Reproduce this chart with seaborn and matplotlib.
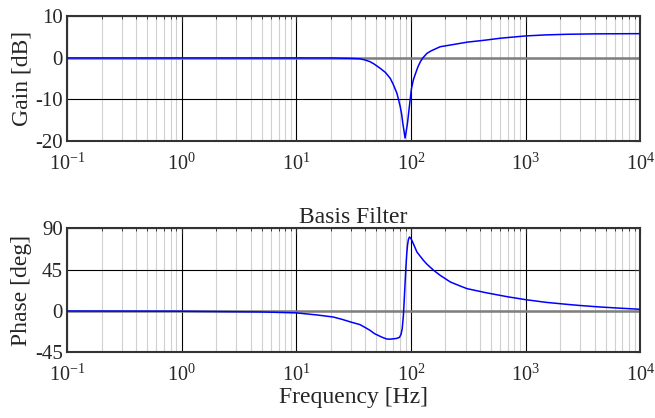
import matplotlib
matplotlib.use("Agg")
import matplotlib.pyplot as plt
import seaborn as sns
import pandas as pd
import numpy as np
from matplotlib.ticker import LogLocator, NullFormatter

# ---- data ----
gain_freq = [0.1, 1, 10, 20, 30, 36, 40, 44, 48, 54, 60, 66, 70, 75.5, 78, 80.7, 83, 85, 87, 89,
             91, 93.4, 96, 98.5, 101, 105, 109, 115, 121, 127, 138, 150, 180, 220, 309, 450,
             603, 1000, 1500, 2290, 4000, 10000]
gain_db = [0, 0, 0, 0, -0.1, -0.2, -0.5, -0.9, -1.5, -2.5, -3.5, -4.9, -6.3, -8.5, -10, -11.7, -13.5,
           -15.7, -17.5, -19.3, -17.7, -15.7, -12.8, -10.1, -7.5, -5.3, -4, -2.2, -0.9, 0, 1.1, 1.7,
           2.7, 3.1, 3.8, 4.3, 4.75, 5.3, 5.55, 5.7, 5.8, 5.85]

phase_freq = [0.1, 1, 5, 10, 15, 21, 25, 30, 36, 40, 44, 48, 54, 58, 62, 66, 71, 75, 79.5, 82, 84,
              86, 87.3, 88.8, 90.3, 92, 93.4, 95, 97, 99.5, 102, 107, 113, 120, 129, 138, 158,
              180, 221, 260, 308, 450, 603, 700, 1000, 1500, 2290, 3000, 4470, 6500, 10000]
phase_deg = [0, -0.2, -1, -2, -4.2, -6.5, -9, -12, -14.8, -18, -21, -24.5, -27.6, -29.3, -30.5,
             -30.6, -30.2, -29.8, -28.7, -25.5, -19.3, -5, 9.8, 28, 46, 62, 71.4, 77.5, 80.5, 79.5,
             76.9, 71, 64.2, 60, 55, 51, 44.3, 38.9, 31.6, 28, 24.4, 20, 17, 15.5, 12.4, 9.5, 7.3,
             6, 4.4, 3.2, 1.9]

gain_ticks = [-20, -10, 0, 10]
phase_ticks = [-45, 0, 45, 90]
x_ticks = [0.1, 1, 10, 100, 1000, 10000]
x_labels = [r"$10^{-1}$", r"$10^{0}$", r"$10^{1}$", r"$10^{2}$", r"$10^{3}$", r"$10^{4}$"]

sns.set_style("white")
plt.rcParams["font.family"] = ["Liberation Serif", "DejaVu Serif"]
plt.rcParams["mathtext.fontset"] = "custom"
plt.rcParams["mathtext.rm"] = "Liberation Serif"
plt.rcParams["mathtext.it"] = "Liberation Serif:italic"
plt.rcParams["mathtext.bf"] = "Liberation Serif:bold"

fig = plt.figure(figsize=(6.55, 4.18), dpi=100)
ax1 = fig.add_axes([0.1023, 0.6627, 0.875, 0.298])
ax2 = fig.add_axes([0.1023, 0.157, 0.875, 0.2967])

gdf = pd.DataFrame({"f": gain_freq, "g": gain_db})
pdf = pd.DataFrame({"f": phase_freq, "p": phase_deg})

def style(ax, yticks, ylim):
    ax.set_xscale("log")
    ax.set_xlim(0.1, 10000)
    ax.set_ylim(*ylim)
    ax.set_xticks(x_ticks)
    ax.set_xticklabels(x_labels)
    ax.xaxis.set_minor_locator(LogLocator(base=10, subs=np.arange(2, 10), numticks=100))
    ax.xaxis.set_minor_formatter(NullFormatter())
    ax.set_yticks(yticks)
    ax.set_yticklabels([str(t) for t in yticks])
    ax.grid(which="major", color="black", lw=0.8)
    ax.grid(which="minor", axis="x", color="#d0d0d0", lw=0.8)
    ax.axhline(0, color="#7f7f7f", lw=1.8, zorder=1.5)
    ax.tick_params(which="both", direction="in", top=True, right=True)
    ax.tick_params(axis="x", which="major", labelsize=14.5, pad=9)
    ax.tick_params(axis="y", which="major", labelsize=15, pad=3)
    ax.tick_params(which="major", length=4)
    ax.tick_params(which="minor", length=2.5)
    for s in ax.spines.values():
        s.set_color("#333333")
        s.set_linewidth(1.5)
    ax.set_axisbelow(True)

sns.lineplot(data=gdf, x="f", y="g", ax=ax1, color="blue", lw=1.1, sort=False, estimator=None, zorder=3)
sns.lineplot(data=pdf, x="f", y="p", ax=ax2, color="blue", lw=1.1, sort=False, estimator=None, zorder=3)

style(ax1, gain_ticks, (-20, 10))
style(ax2, phase_ticks, (-45, 90))

ax1.set_xlabel("")
ax1.set_ylabel("Gain [dB]", fontsize=17, labelpad=2)
ax2.set_ylabel("Phase [deg]", fontsize=17, labelpad=2)
ax2.set_xlabel("Frequency [Hz]", fontsize=17, labelpad=1)
ax2.set_title("Basis Filter", fontsize=17, pad=4)

fig.savefig("out.png", dpi=100)
